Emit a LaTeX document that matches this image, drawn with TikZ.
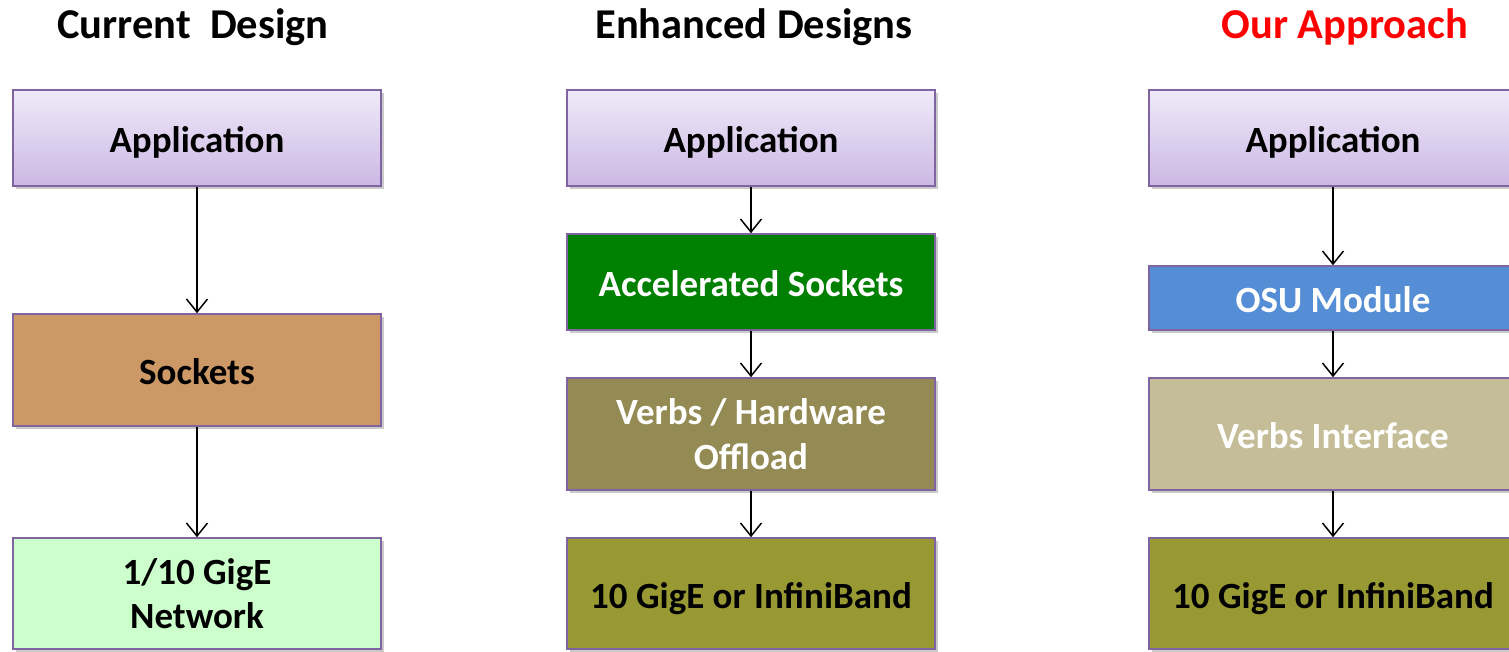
\documentclass[tikz,border=0pt]{standalone}
\usepackage{fontspec}
\setmainfont{Carlito}
\usetikzlibrary{arrows.meta,shadows}
\newcommand{\boxstrut}{\rule[-9pt]{0pt}{47pt}}
\definecolor{bordr}{HTML}{8064A2}
\definecolor{apptop}{HTML}{F0EAF9}
\definecolor{appbot}{HTML}{CBB8E4}
\definecolor{sockc}{HTML}{CC9966}
\definecolor{netc}{HTML}{CCFFCC}
\definecolor{accc}{HTML}{008000}
\definecolor{verbc}{HTML}{948A54}
\definecolor{gigec}{HTML}{999933}
\definecolor{osuc}{HTML}{558ED5}
\definecolor{vic}{HTML}{C4BD97}
\tikzset{
  box/.style={draw=bordr, line width=1.6pt, minimum width=368pt, inner sep=0pt,
    align=center, font=\fontsize{37}{44.5}\selectfont\bfseries,
    drop shadow={shadow xshift=3pt, shadow yshift=-3pt, opacity=0.35, fill=black!60}},
  title/.style={font=\fontsize{42.5}{46}\selectfont\bfseries, inner sep=0pt},
  arr/.style={line width=1.5pt, -{Straight Barb[length=13pt,width=21pt,line width=1.5pt]}}
}
\begin{document}
\begin{tikzpicture}[x=1pt,y=-1pt]
\useasboundingbox (0,0) rectangle (1509,651);
\clip (0,0) rectangle (1509,651);
% titles
\node[title] (t1) at (193,27) {Current\ \ Design};
\node[title] (t2) at (754,27) {Enhanced Designs};
\node[title, text=red] (t3) at (1345,27) {Our Approach};
% column 1
\node[box, minimum height=96pt, top color=apptop, bottom color=appbot] (a1) at (197,138) {\boxstrut Application};
\node[box, minimum height=112pt, fill=sockc] (s1) at (197,370) {\boxstrut Sockets};
\node[box, minimum height=111pt, fill=netc] (n1) at (197,593.5) {1/10 GigE\\Network};
% column 2
\node[box, minimum height=96pt, top color=apptop, bottom color=appbot] (a2) at (751,138) {\boxstrut Application};
\node[box, minimum height=96pt, fill=accc, text=white] (c2) at (751,282) {\boxstrut Accelerated Sockets};
\node[box, minimum height=112pt, fill=verbc, text=white] (v2) at (751,434) {Verbs / Hardware\\Offload};
\node[box, minimum height=111pt, fill=gigec] (g2) at (751,593.5) {\boxstrut 10 GigE or InfiniBand};
% column 3
\node[box, minimum height=96pt, top color=apptop, bottom color=appbot] (a3) at (1333,138) {\boxstrut Application};
\node[box, minimum height=64pt, fill=osuc, text=white] (o3) at (1333,298) {\boxstrut OSU Module};
\node[box, minimum height=112pt, fill=vic, text=white] (v3) at (1333,434) {\boxstrut Verbs Interface};
\node[box, minimum height=111pt, fill=gigec] (g3) at (1333,593.5) {\boxstrut 10 GigE or InfiniBand};
% arrows
\draw[arr] (a1) -- (s1);
\draw[arr] (s1) -- (n1);
\draw[arr] (a2) -- (c2);
\draw[arr] (c2) -- (v2);
\draw[arr] (v2) -- (g2);
\draw[arr] (a3) -- (o3);
\draw[arr] (o3) -- (v3);
\draw[arr] (v3) -- (g3);
\end{tikzpicture}
\end{document}
